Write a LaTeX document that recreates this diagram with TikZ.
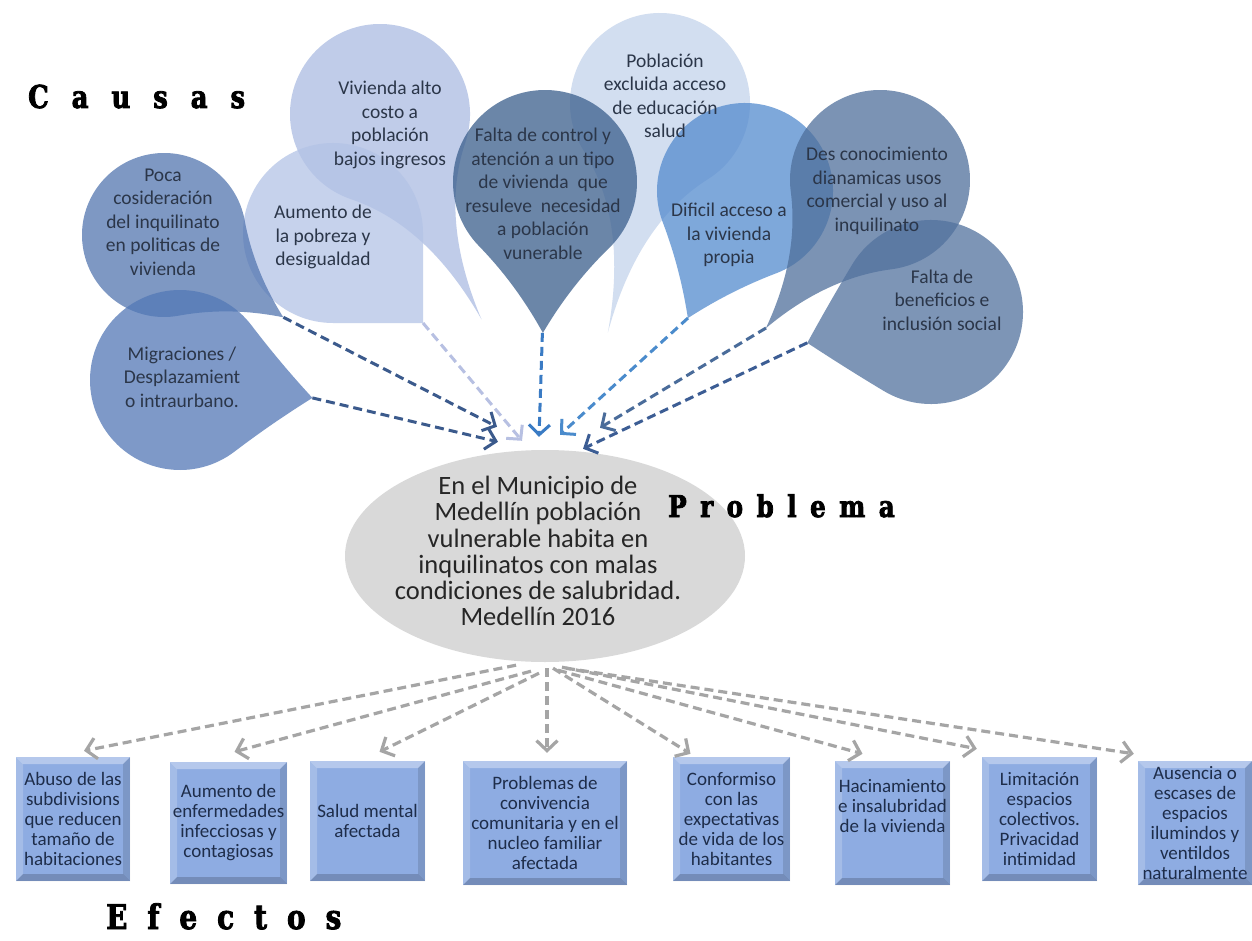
\documentclass[tikz,border=0pt]{standalone}
\usepackage{fontspec}
\setmainfont{Carlito}
\newfontfamily\ttlfont[FakeStretch=0.82,BoldFeatures={FakeBold=2.5}]{DejaVu Serif}
\usetikzlibrary{shapes.geometric,arrows.meta,calc}
\definecolor{cPoca}{HTML}{5476B0}
\definecolor{cMig}{HTML}{5378B6}
\definecolor{cAum}{HTML}{B3C3E6}
\definecolor{cViv}{HTML}{ABBCE2}
\definecolor{cFdc}{HTML}{3A5E8C}
\definecolor{cPob}{HTML}{C3D3EB}
\definecolor{cDif}{HTML}{548BCE}
\definecolor{cDes}{HTML}{4F6F9B}
\definecolor{cFben}{HTML}{52729E}
\definecolor{bubtext}{HTML}{2B3649}
\definecolor{boxtext}{HTML}{1E2D4A}
\definecolor{boxfill}{HTML}{8EACE2}
\definecolor{aDark}{HTML}{3B5A8C}
\definecolor{aLight}{HTML}{B7C0E2}
\definecolor{aBlue}{HTML}{3A7BC4}
\definecolor{aBlue2}{HTML}{4A8BCC}
\definecolor{aSteel}{HTML}{4A6C9A}
\definecolor{aNavy}{HTML}{3C5D94}
\definecolor{aGray}{HTML}{A5A5A5}
% teardrop: #1 cx, #2 cy, #3 radius, #4 tip angle (image, y down), #5 tip factor, #6 style
\newcommand\tdrop[6]{%
  \fill[#6, shift={(#1,#2)}, rotate={45-(#4)}]
   (0,#3) .. controls ({#5*#3/3},#3) and ({2*#5*#3/3},{(2+#5)*#3/3}) ..
   ({#5*#3},{#5*#3}) .. controls ({(2+#5)*#3/3},{2*#5*#3/3}) and (#3,{#5*#3/3}) ..
   (#3,0) arc[start angle=0, end angle=-270, radius=#3] -- cycle;}
\tikzset{bevel/.style={path picture={
  \path (path picture bounding box.north west) coordinate (q1)
        (path picture bounding box.north east) coordinate (q2)
        (path picture bounding box.south east) coordinate (q3)
        (path picture bounding box.south west) coordinate (q4);
  \fill[white,opacity=.35] (q1) -- (q2) -- ([shift={(-7,7)}]q2) -- ([shift={(7,7)}]q1) -- cycle;
  \fill[white,opacity=.2] (q1) -- ([shift={(7,7)}]q1) -- ([shift={(7,-7)}]q4) -- (q4) -- cycle;
  \fill[black,opacity=.18] (q4) -- (q3) -- ([shift={(-7,-7)}]q3) -- ([shift={(7,-7)}]q4) -- cycle;
  \fill[black,opacity=.12] (q2) -- (q3) -- ([shift={(-7,-7)}]q3) -- ([shift={(-7,7)}]q2) -- cycle;
}}}
\begin{document}
\begin{tikzpicture}[x=1pt,y=-1pt,
  bub/.style={fill opacity=0.75},
  btxt/.style={align=center,text=bubtext,inner sep=0pt,font=\fontsize{19.5}{23.5}\selectfont},
  ptxt/.style={align=center,text=black!85,inner sep=0pt,font=\fontsize{26.5}{26.2}\selectfont},
  etxt/.style={align=center,text=boxtext,inner sep=0pt,font=\fontsize{19}{20}\selectfont},
  ebox/.style={fill=boxfill,inner sep=0pt,etxt,bevel},
  carrow/.style={line width=3pt,dash pattern=on 9pt off 5pt,-{Straight Barb[length=10pt,width=21pt]}},
  earrow/.style={aGray,line width=3.2pt,dash pattern=on 9pt off 5pt,-{Straight Barb[length=10pt,width=21pt]}},
  ttl/.style={anchor=base west,inner sep=0pt}
]
\useasboundingbox (0,0) rectangle (1252,941);
\fill[white] (0,0) rectangle (1252,941);

% ---- cause bubbles ----
\tdrop{660}{103}{90}{102.8}{1.85}{cPob,bub}
\tdrop{380}{114}{90}{63.7}{1.80}{cViv,bub}
\tdrop{333}{233}{90}{45}{1}{cAum,bub}
\tdrop{164}{235}{82}{34.6}{1.25}{cPoca,bub}
\tdrop{180}{380}{90}{7.7}{1.05}{cMig,bub}
\tdrop{545}{182}{92}{90.8}{1.16}{cFdc,bub}
\tdrop{745}{191}{88}{114.2}{1.12}{cDif,bub}
\tdrop{880}{180}{90}{127.6}{1.47}{cDes,bub}
\tdrop{931}{312}{92}{166}{0.98}{cFben,bub}

\node[btxt] (poca) at (163,222) {Poca\\cosideración\\del inquilinato\\en politicas de\\vivienda};
\node[btxt] (mig) at (182,377) {Migraciones /\\Desplazamient\\o intraurbano.};
\node[btxt] (aum) at (323,237) {Aumento de\\la pobreza y\\desigualdad};
\node[btxt] (viv) at (390,125) {Vivienda alto\\costo a\\población\\bajos ingresos};
\node[btxt] (fdc) at (543,194) {Falta de control y\\atención a un tipo\\de vivienda\ \ que\\resuleve\ \ necesidad\\a población\\vunerable};
\node[btxt] (pob) at (665,96) {Población\\excluida acceso\\de educación\\salud};
\node[btxt] (dif) at (729,235) {Dificil acceso a\\la vivienda\\propia};
\node[btxt] (des) at (877,191) {Des conocimiento\\dianamicas usos\\comercial y uso al\\inquilinato};
\node[btxt] (fben) at (942,300) {Falta de\\beneficios e\\inclusión social};

\coordinate (pocaTip) at (283.4,317.3);
\coordinate (migTip) at (312.4,397.9);
\coordinate (aumTip) at (423,323);
\coordinate (fdcTip) at (542.4,332.9);
\coordinate (difTip) at (688,318);
\coordinate (desTip) at (766,328);
\coordinate (fbenTip) at (807.3,342.8);

% ---- problem ----
\node[ellipse,fill=black!15,minimum width=400pt,minimum height=212pt,inner sep=0pt] (prob) at (545,556) {};
\node[ptxt] (probtxt) at (538,551) {En el Municipio de\\Medellín población\\vulnerable habita en\\inquilinatos con malas\\condiciones de salubridad.\\Medellín 2016};

% ---- titles ----
\node[ttl] (causas) at (28,108) {\ttlfont\bfseries\fontsize{31.5}{32}\selectfont\spaceskip=23pt C a u s a s};
\node[ttl] (problema) at (668,517) {\ttlfont\bfseries\fontsize{30}{30}\selectfont\spaceskip=13.5pt P r o b l e m a};
\node[ttl] (efectos) at (106,929) {\ttlfont\bfseries\fontsize{34}{34}\selectfont\spaceskip=20pt E f e c t o s};

% ---- cause arrows ----
\draw[carrow,aDark] (pocaTip) -- ($(prob.north)+(-48,-23)$);
\draw[carrow,aDark] (migTip) -- ($(prob.north)+(-47,-8)$);
\draw[carrow,aLight] (aumTip) -- ($(prob.north)+(-23,-9)$);
\draw[carrow,aBlue] (fdcTip) -- ($(prob.north)+(-6,-13)$);
\draw[carrow,aBlue2] (difTip) -- ($(prob.north)+(15,-15)$);
\draw[carrow,aSteel] (desTip) -- ($(prob.north)+(55,-22)$);
\draw[carrow,aNavy] (fbenTip) -- ($(prob.north)+(38,-1)$);

% ---- effect boxes ----
\node[ebox,minimum width=114pt,minimum height=124pt] (b1) at (73,819) {Abuso de las\\subdivisions\\que reducen\\tamaño de\\habitaciones};
\node[ebox,minimum width=117pt,minimum height=122pt] (b2) at (228.5,823) {Aumento de\\enfermedades\\infecciosas y\\contagiosas};
\node[ebox,minimum width=115pt,minimum height=120pt] (b3) at (367.5,821) {Salud mental\\afectada};
\node[ebox,minimum width=164pt,minimum height=124pt] (b4) at (545,823) {Problemas de\\convivencia\\comunitaria y en el\\nucleo familiar\\afectada};
\node[ebox,minimum width=117pt,minimum height=124pt] (b5) at (731.5,819) {Conformiso\\con las\\expectativas\\de vida de los\\habitantes};
\node[ebox,minimum width=115pt,minimum height=124pt] (b6) at (892.5,823) {};
\node[etxt,anchor=north] (t6) at ([yshift=-18pt]b6.north) {Hacinamiento\\e insalubridad\\de la vivienda};
\node[ebox,minimum width=115pt,minimum height=124pt] (b7) at (1039.5,819) {Limitación\\espacios\\colectivos.\\Privacidad\\intimidad};
\node[ebox,minimum width=114pt,minimum height=124pt] (b8) at (1195,823) {Ausencia o\\escases de\\espacios\\ilumindos y\\ventildos\\naturalmente};

% ---- effect arrows ----
\draw[earrow] ($(prob.south)+(-29,3)$) -- ($(b1.north)+(11,-6)$);
\draw[earrow] ($(prob.south)+(-14,9)$) -- ($(b2.north)+(6,-10)$);
\draw[earrow] ($(prob.south)+(-6,11)$) -- ($(b3.north)+(12,-9)$);
\draw[earrow] ($(prob.south)+(2,6)$) -- ($(b4.north)+(2,-8)$);
\draw[earrow] ($(prob.south)+(8,6)$) -- ($(b5.north)+(-41,-3)$);
\draw[earrow] ($(prob.south)+(13,8)$) -- ($(b6.north)+(-30,-7)$);
\draw[earrow] ($(prob.south)+(17,5)$) -- ($(b7.north west)+(-5,-8)$);
\draw[earrow] ($(prob.south)+(21,6)$) -- ($(b8.north west)+(-4,-7)$);
\end{tikzpicture}
\end{document}
